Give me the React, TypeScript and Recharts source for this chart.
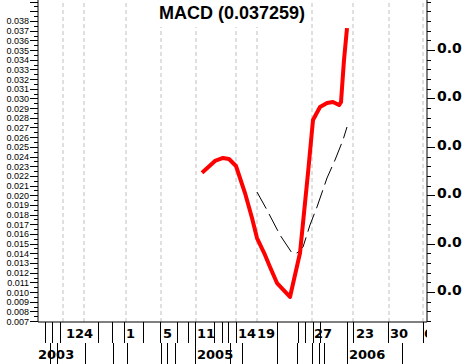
import { LineChart, Line, XAxis, YAxis, ReferenceLine } from 'recharts'

// Layout of the picture (pixels)
const W = 464
const H = 364
const PLOT_L = 38
const PLOT_R = 427
const ROW_H = 21

// x = slot index counted from the left edge of the plot
const macdX = [164, 177, 185, 191, 198, 207, 214, 219, 227, 232, 239, 252, 262, 270, 275, 282, 289, 295, 301, 303, 306, 309]
const macdY = [0.02233, 0.02354, 0.02385, 0.02374, 0.02302, 0.02023, 0.01765, 0.01558, 0.01383, 0.01259, 0.01093, 0.00949, 0.01403, 0.0223, 0.02777, 0.02912, 0.02953, 0.02963, 0.02932, 0.02963, 0.03397, 0.037259]

const signalX = [219, 229, 242, 254, 259, 265, 272, 279, 289, 297, 305, 309]
const signalY = [0.02033, 0.01847, 0.01589, 0.01403, 0.01403, 0.01465, 0.01693, 0.01879, 0.02178, 0.02364, 0.02571, 0.02705]

const gridX = [25, 46, 88, 123, 158, 198, 219, 274, 315, 351, 385]

// bottom rows: separators and labels
const dayLines = [7, 14, 22, 60, 74, 86, 105, 122, 139, 150, 157, 176, 184, 190, 198, 239, 260, 267, 275, 282, 309, 315, 350, 385]
const dayLabelX = [28, 88, 125, 159, 200, 219, 276, 318, 352, 386]
const dayLabels = ['124', '1', '5', '11', '14', '19', '27', '23', '30', '6']

const yearLines = [12, 19, 47, 75, 89, 123, 129, 137, 157, 192, 204, 239, 259, 274, 281, 286, 309, 364]
const yearLabelX = [0, 159, 311]
const yearLabels = ['2003', '2005', '2006']

const leftTicks = [0.007, 0.008, 0.009, 0.010, 0.011, 0.012, 0.013, 0.014, 0.015, 0.016, 0.017, 0.018, 0.019, 0.020, 0.021, 0.022, 0.023, 0.024, 0.025, 0.026, 0.027, 0.028, 0.029, 0.030, 0.031, 0.032, 0.033, 0.034, 0.035, 0.036, 0.037, 0.038, 0.039, 0.040]
const leftLabelMax = 0.038
// right-hand labels: only "0.0" of each fits in the picture
const rightLabels = [0.010, 0.015, 0.020, 0.025, 0.030, 0.035]
const rightLabelText = '0.0'

const Y_DOMAIN: [number, number] = [0.006905, 0.040169]
const X_DOMAIN: [number, number] = [0, 389]

const macd = macdX.map((t, i) => ({ t, v: macdY[i] }))
const signal = signalX.map((t, i) => ({ t, v: signalY[i] }))

const uniq = (a: number[]) => Array.from(new Set(a)).sort((p, q) => p - q)
const dayTicks = uniq([...dayLines, ...dayLabelX])
const yearTicks = uniq([...yearLines, ...yearLabelX])

// minor ticks half way between the 0.001 steps
const leftAll = uniq([...leftTicks, ...leftTicks.slice(0, -1).map((v, i) => (v + leftTicks[i + 1]) / 2)])
const k = (v: number) => Math.round(v * 100000)

const BOLD = '"DejaVu Sans", Verdana, sans-serif'

function rowTick(lines: number[], labelX: number[], labels: string[]) {
  return (props: any) => {
    const { x, y, payload } = props
    const v = payload.value
    const px = Math.round(x) + 0.5
    const li = labelX.indexOf(v)
    return (
      <g>
        {lines.includes(v) && <line x1={px} x2={px} y1={y} y2={y + ROW_H} stroke="#000" />}
        {li >= 0 && (
          <svg x={PLOT_L} y={y} width={PLOT_R - PLOT_L} height={ROW_H}>
            <text x={x - PLOT_L} y={16} fontFamily={BOLD} fontWeight="bold" fontSize={13} fill="#000">
              {labels[li]}
            </text>
          </svg>
        )}
      </g>
    )
  }
}

function LeftTick(props: any) {
  const { x, y, payload } = props
  const v = payload.value
  const major = leftTicks.some(t => k(t) === k(v))
  const py = Math.round(y) + 0.5
  return (
    <g>
      <line x1={x - (major ? 8 : 4)} x2={x} y1={py} y2={py} stroke="#000" />
      {major && v <= leftLabelMax + 1e-9 && (
        <text x={x - 9} y={y + 3.5} textAnchor="end" fontFamily='"Liberation Sans", Arial, sans-serif' fontSize={9} fill="#000">
          {v.toFixed(3)}
        </text>
      )}
    </g>
  )
}

function RightTick(props: any) {
  const { x, y, payload } = props
  const v = payload.value
  const major = rightLabels.some(t => k(t) === k(v))
  const py = Math.round(y) + 0.5
  return (
    <g>
      <line x1={x} x2={x + (major ? 8 : 4)} y1={py} y2={py} stroke="#000" />
      {major && (
        <text x={x + 10} y={y + 3} fontFamily={BOLD} fontWeight="bold" fontSize={14} fill="#000">
          {rightLabelText}
        </text>
      )}
    </g>
  )
}

export default function App() {
  return (
    <div style={{ position: 'absolute', left: 0, top: 0, width: W, height: H, background: '#fff' }}>
      <LineChart width={W} height={H} margin={{ top: 0, right: 0, bottom: 0, left: 0 }}>
        <XAxis
          xAxisId="day"
          type="number"
          dataKey="t"
          domain={X_DOMAIN}
          allowDataOverflow
          ticks={dayTicks}
          interval={0}
          tick={rowTick(dayLines, dayLabelX, dayLabels)}
          tickLine={false}
          tickSize={0}
          tickMargin={0}
          axisLine={{ stroke: '#000' }}
          height={ROW_H}
        />
        <XAxis
          xAxisId="year"
          type="number"
          dataKey="t"
          domain={X_DOMAIN}
          allowDataOverflow
          ticks={yearTicks}
          interval={0}
          tick={rowTick(yearLines, yearLabelX, yearLabels)}
          tickLine={false}
          tickSize={0}
          tickMargin={0}
          axisLine={false}
          height={ROW_H}
        />
        <YAxis
          yAxisId="l"
          orientation="left"
          type="number"
          domain={Y_DOMAIN}
          allowDataOverflow
          ticks={leftAll}
          interval={0}
          tick={LeftTick}
          tickLine={false}
          tickSize={0}
          tickMargin={0}
          axisLine={{ stroke: '#000' }}
          width={PLOT_L}
        />
        <YAxis
          yAxisId="r"
          orientation="right"
          type="number"
          domain={Y_DOMAIN}
          allowDataOverflow
          ticks={leftTicks}
          interval={0}
          tick={RightTick}
          tickLine={false}
          tickSize={0}
          tickMargin={0}
          axisLine={{ stroke: '#000' }}
          width={W - PLOT_R}
        />
        {gridX.map(g => (
          <ReferenceLine key={g} x={g} xAxisId="day" yAxisId="l" stroke="#c0c0c0" strokeDasharray="4 3" />
        ))}
        <Line
          data={signal}
          xAxisId="day"
          yAxisId="l"
          dataKey="v"
          type="linear"
          stroke="#000"
          strokeWidth={1}
          strokeDasharray="19 6"
          dot={false}
          isAnimationActive={false}
        />
        <Line
          data={macd}
          xAxisId="day"
          yAxisId="l"
          dataKey="v"
          type="linear"
          stroke="#ff0000"
          strokeWidth={4}
          strokeLinejoin="round"
          dot={false}
          isAnimationActive={false}
        />
      </LineChart>
      <div
        style={{
          position: 'absolute',
          left: 154,
          top: 0,
          width: 156,
          height: 27,
          background: '#fff',
          textAlign: 'center',
          lineHeight: '27px',
          fontFamily: '"Liberation Sans", Arial, sans-serif',
          fontWeight: 'bold',
          fontSize: 18,
          color: '#000',
          whiteSpace: 'nowrap',
        }}
      >
        MACD (0.037259)
      </div>
    </div>
  )
}
